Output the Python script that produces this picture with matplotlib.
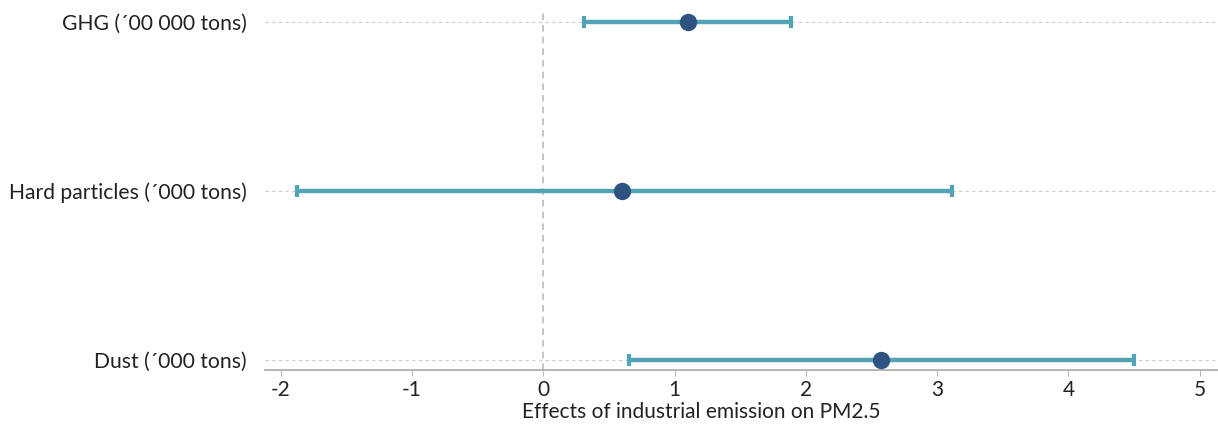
import matplotlib
matplotlib.use("Agg")
import matplotlib.pyplot as plt

categories = ["Dust (´000 tons)", "Hard particles (´000 tons)", "GHG (´00 000 tons)"]
estimates = [2.57, 0.60, 1.10]
lower = [0.65, -1.88, 0.31]
upper = [4.50, 3.11, 1.89]
xticks = [-2, -1, 0, 1, 2, 3, 4, 5]
xlabel = "Effects of industrial emission on PM2.5"

plt.rcParams['font.family'] = ['Lato', 'DejaVu Sans']

fig = plt.figure(figsize=(12.18, 4.25), dpi=100)
ax = fig.add_axes([0.2176, 0.1294, 0.7824, 0.8471])

ypos = list(range(len(categories)))
for y in ypos:
    ax.axhline(y, color='#cccccc', lw=0.8, ls=(0, (3, 3)), zorder=1)
ax.axvline(0, color='#bbbbbb', lw=1.2, ls=(0, (4, 3)), zorder=1)

xerr = [[e - l for e, l in zip(estimates, lower)], [u - e for e, u in zip(estimates, upper)]]
ax.errorbar(estimates, ypos, xerr=xerr, fmt='none', ecolor='#52a3b5', elinewidth=3.2,
            capsize=4.5, capthick=3, zorder=2)
ax.plot(estimates, ypos, 'o', color='#2f5380', markersize=11.5, zorder=3)

ax.set_xlim(-2.12, 5.14)
ax.set_ylim(-0.06, 2.07)
ax.set_yticks(ypos)
ax.set_yticklabels(categories, fontsize=15.2, color='#222222')
ax.set_xticks(xticks)
ax.set_xticklabels([str(t) for t in xticks], fontsize=15, color='#222222')
ax.tick_params(axis='y', length=0, pad=13)
ax.tick_params(axis='x', length=4, color='#bbbbbb', pad=3)
ax.set_xlabel(xlabel, fontsize=15, color='#222222')
ax.xaxis.set_label_coords(0.4575, -0.09)

for s in ['top', 'right', 'left']:
    ax.spines[s].set_visible(False)
ax.spines['bottom'].set_color('#aaaaaa')
ax.spines['bottom'].set_linewidth(1.2)

fig.savefig("out.png", dpi=100, facecolor='white')
